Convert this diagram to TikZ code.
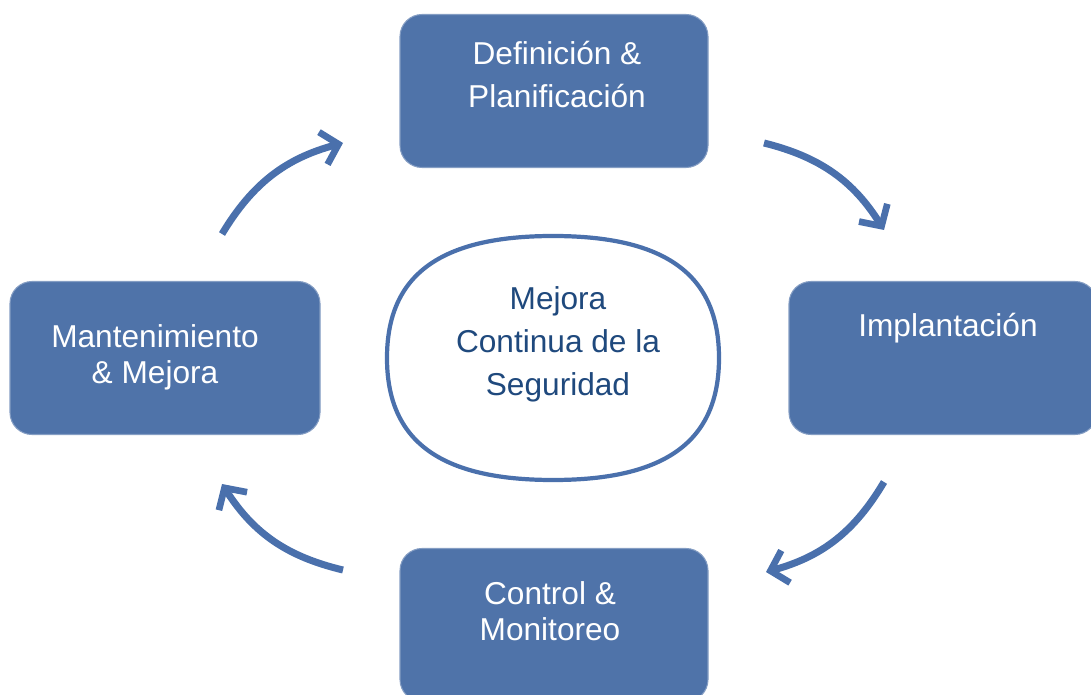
\documentclass[tikz,border=0pt]{standalone}
\usepackage{fontspec}
\setmainfont{Liberation Sans}
\usepackage{xcolor}
\usetikzlibrary{calc,arrows.meta,positioning,shapes.geometric}
\definecolor{boxblue}{RGB}{79,115,169}
\definecolor{arrowblue}{RGB}{74,112,172}
\definecolor{darktext}{RGB}{31,73,125}
\begin{document}
\begin{tikzpicture}
[every node/.style={font=\fontsize{18}{24.5}\selectfont},
 phasebox/.style={rectangle,rounded corners=0.44cm,fill=boxblue,draw=boxblue!70!white,
	line width=0.6pt,minimum width=6.16cm,minimum height=3.06cm},
 phasetext/.style={text=white,align=center},
 tighttext/.style={font=\fontsize{18}{20.5}\selectfont},
 cyclearrow/.style={draw=arrowblue,line width=4pt,
	-{Straight Barb[length=9pt,width=19pt,line width=3.8pt]}}]
\useasboundingbox (0,0) rectangle (21.82,13.88);
\clip (0,0) rectangle (21.82,13.88);
% cajas del ciclo
\node[phasebox] (def) at (11.08,12.06) {};
\node[phasebox] (imp) at (18.86,6.72) {};
\node[phasebox] (con) at (11.08,1.38) {};
\node[phasebox,minimum width=6.2cm] (man) at (3.3,6.72) {};
\node[phasetext] (def-t) at (11.14,12.39) {Definición \&\\Planificación};
\node[phasetext] (imp-t) at (18.96,7.32) {Implantación};
\node[phasetext,tighttext] (con-t) at (11.0,1.66) {Control \&\\Monitoreo};
\node[phasetext,tighttext] (man-t) at (3.1,6.74) {Mantenimiento\\\& Mejora};
% centro
\node[ellipse,minimum width=6.64cm,minimum height=4.88cm] (mej) at (11.06,6.72) {};
\draw[arrowblue,line width=2.4pt,fill=white,shift={(mej.center)}]
	(3.32,0) .. controls (3.32,1.66) and (2.26,2.44) .. (0,2.44)
	.. controls (-2.26,2.44) and (-3.32,1.66) .. (-3.32,0)
	.. controls (-3.32,-1.66) and (-2.26,-2.44) .. (0,-2.44)
	.. controls (2.26,-2.44) and (3.32,-1.66) .. cycle;
\node[text=darktext,align=center] (mej-t) at (11.16,7.0) {Mejora\\Continua de la\\Seguridad};
% flechas
\coordinate (a1) at (4.44,9.2);
\coordinate (b1) at (6.86,11.02);
\coordinate (a2) at (15.28,11.02);
\coordinate (b2) at (17.68,9.28);
\coordinate (a3) at (17.68,4.24);
\coordinate (b3) at (15.32,2.44);
\coordinate (a4) at (6.86,2.48);
\coordinate (b4) at (4.44,4.2);
\path
\foreach \startNode/\endNode in {a1/b1,a2/b2,a3/b3,a4/b4}
{
	(\startNode) edge[cyclearrow,bend left=22] (\endNode)
};
\end{tikzpicture}
\end{document}
